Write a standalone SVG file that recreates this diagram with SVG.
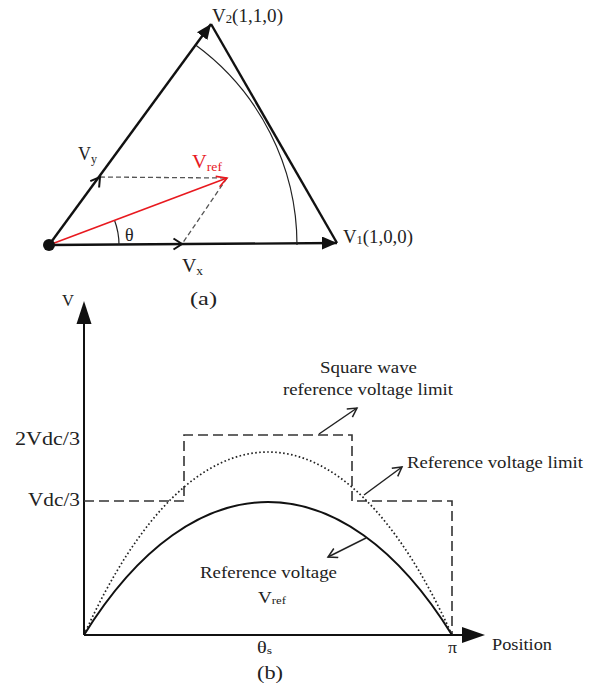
<svg xmlns="http://www.w3.org/2000/svg" width="597" height="687" viewBox="0 0 597 687">
<style>
text{font-family:"Liberation Serif","Times New Roman",serif;fill:#222;}
.lbl{font-size:18px;}
.sm{font-size:16.5px;}
.thick{stroke:#111;stroke-width:2.4;fill:none;}
.thin{stroke:#222;stroke-width:1.2;fill:none;}
.dash{stroke:#555;stroke-width:1.3;fill:none;stroke-dasharray:5 3;}
.chev{stroke:#111;stroke-width:2;fill:none;stroke-linejoin:miter;}
.axis{stroke:#111;stroke-width:2;fill:none;}
.sq{stroke:#333;stroke-width:1.6;fill:none;stroke-dasharray:10 5;}
.dot{stroke:#222;stroke-width:1.7;fill:none;stroke-dasharray:1.6 2.4;}
.sol{stroke:#111;stroke-width:2;fill:none;}
.pt{stroke:#222;stroke-width:1.5;fill:none;}
</style>
<defs>
<marker id="fill" markerWidth="16" markerHeight="14" refX="15" refY="6.5" orient="auto" markerUnits="userSpaceOnUse">
<path d="M0,0 L15,6.5 L0,13 Z" fill="#111"/>
</marker>
<marker id="open" markerWidth="12" markerHeight="12" refX="10" refY="6" orient="auto" markerUnits="userSpaceOnUse">
<path d="M1,1 L10,6 L1,11" fill="none" stroke="#222" stroke-width="1.5"/>
</marker>
</defs>

<g id="panel-a">
  <g id="connectors-a">
    <path class="thick" d="M49,245 L337,243" marker-end="url(#fill)"/>
    <path class="thick" d="M49,245 L211,24" marker-end="url(#fill)"/>
    <path class="thick" d="M211,24 L337,243"/>
    <path class="thin" d="M297,245 A248,248 0 0 0 195.6,45.1"/>
    <path class="dash" d="M100,177 L227,178"/>
    <path class="dash" d="M227,178 L182,244"/>
    <path class="thin" d="M119,245 A70,70 0 0 0 114.5,220.3"/>
    <path d="M49,245 L227,178" stroke="#e8191f" stroke-width="1.6" fill="none"/>
    <path d="M219.6,186.7 L227,178 L215.7,176.4" stroke="#e8191f" stroke-width="1.6" fill="none"/>
    <path class="chev" d="M99.1,187.5 L100,177 L90.3,181.1"/>
    <path class="chev" d="M173.5,238.5 L182,244 L173.5,249.5"/>
  </g>
  <g id="origin"><circle cx="49" cy="245" r="6" fill="#111"/></g>
  <g id="node-v2"><text class="lbl" x="212" y="22" textLength="71" lengthAdjust="spacingAndGlyphs">V<tspan font-size="12" dy="1">2</tspan><tspan dy="-1">(1,1,0)</tspan></text></g>
  <g id="node-v1"><text class="lbl" x="343" y="243" textLength="70" lengthAdjust="spacingAndGlyphs">V<tspan font-size="12" dy="1">1</tspan><tspan dy="-1">(1,0,0)</tspan></text></g>
  <g id="node-vy"><text class="lbl" x="78" y="160" textLength="19" lengthAdjust="spacingAndGlyphs">V<tspan font-size="12" dy="3">y</tspan></text></g>
  <g id="node-vref"><text class="lbl" x="192" y="168" textLength="30" lengthAdjust="spacingAndGlyphs" style="fill:#e8191f">V<tspan font-size="12" dy="3">ref</tspan></text></g>
  <g id="node-vx"><text class="lbl" x="182" y="272" textLength="21" lengthAdjust="spacingAndGlyphs">V<tspan font-size="12" dy="3">x</tspan></text></g>
  <g id="node-theta"><text class="lbl" x="125" y="241">θ</text></g>
  <text x="190" y="305" font-size="19" textLength="27" lengthAdjust="spacingAndGlyphs">(a)</text>
</g>

<g id="panel-b">
  <g id="connectors-b">
    <path class="axis" d="M84,635 L84,322"/>
    <path d="M84,301 L76.5,324 L91.5,324 Z" fill="#111"/>
    <path class="axis" d="M84,635 L463,635"/>
    <path d="M485,635 L462,627 L462,643 Z" fill="#111"/>
    <path class="sq" d="M84,501 H184 V435 H352 V501 H452 V635"/>
    <path class="dot" d="M84,635 C194,391 342,391 452,635"/>
    <path class="sol" d="M84,635 C194,457.7 342,457.7 452,635"/>
    <path class="pt" d="M319,434 L357,408" marker-end="url(#open)"/>
    <path class="pt" d="M364,495 L402,467" marker-end="url(#open)"/>
    <path class="pt" d="M366,538 L328,557" marker-end="url(#open)"/>
  </g>
  <g id="axis-labels">
    <text class="sm" x="62" y="306">V</text>
    <text x="15" y="445" font-size="18" textLength="65" lengthAdjust="spacingAndGlyphs">2Vdc/3</text>
    <text x="28" y="506" font-size="18" textLength="52" lengthAdjust="spacingAndGlyphs">Vdc/3</text>
    <text class="sm" x="257" y="653" textLength="15" lengthAdjust="spacingAndGlyphs">θ<tspan font-size="11" dy="1">s</tspan></text>
    <text class="sm" x="448" y="653" textLength="9" lengthAdjust="spacingAndGlyphs">π</text>
    <text class="sm" x="492" y="650" textLength="60" lengthAdjust="spacingAndGlyphs">Position</text>
  </g>
  <g id="node-square-wave">
    <text class="sm" x="320" y="373" textLength="97" lengthAdjust="spacingAndGlyphs">Square wave</text>
    <text class="sm" x="283" y="395" textLength="170" lengthAdjust="spacingAndGlyphs">reference voltage limit</text>
  </g>
  <g id="node-ref-limit">
    <text class="sm" x="407" y="468" textLength="176" lengthAdjust="spacingAndGlyphs">Reference voltage limit</text>
  </g>
  <g id="node-ref-voltage">
    <text class="sm" x="200" y="578" textLength="137" lengthAdjust="spacingAndGlyphs">Reference voltage</text>
    <text class="sm" x="258" y="603" textLength="28" lengthAdjust="spacingAndGlyphs">V<tspan font-size="11" dy="1">ref</tspan></text>
  </g>
  <text x="257" y="679" font-size="19" textLength="26" lengthAdjust="spacingAndGlyphs">(b)</text>
</g>
</svg>
